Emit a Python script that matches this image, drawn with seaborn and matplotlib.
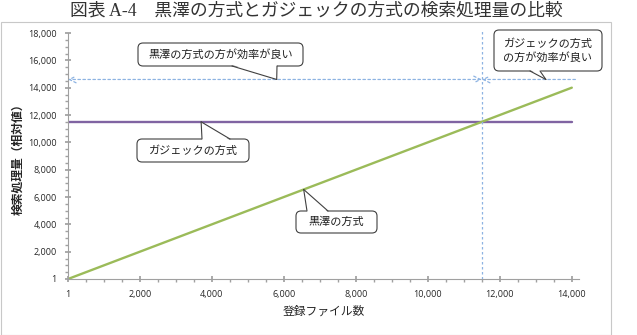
import matplotlib
matplotlib.use("Agg")
import matplotlib.pyplot as plt
import matplotlib.patches as mpatches
from matplotlib.lines import Line2D
from matplotlib.transforms import Affine2D
from matplotlib.ticker import MultipleLocator
import seaborn as sns
import pandas as pd

# ---- data ----
files = [1, 14000]
kurosawa = [1, 14000]
gadjek = [11500, 11500]
crossover_x = 11500
arrow_y = 14600
x_ticks = [1, 2000, 4000, 6000, 8000, 10000, 12000, 14000]
y_ticks = [1, 2000, 4000, 6000, 8000, 10000, 12000, 14000, 16000, 18000]

title = "図表 A-4　黒澤の方式とガジェックの方式の検索処理量の比較"
xlabel = "登録ファイル数"
ylabel = "検索処理量（相対値）"
callout_texts = ["黒澤の方式の方が効率が良い", "ガジェックの方式\nの方が効率が良い",
                 "ガジェックの方式", "黒澤の方式"]
callout_targets = [(5800, 14600), (13280, 14600), (3700, 11500), (6550, 6550)]

sns.set_theme(style="white")
plt.rcParams['font.family'] = ['Noto Sans CJK JP', 'DejaVu Sans']

df = pd.DataFrame({"files": files, "kurosawa": kurosawa, "gadjek": gadjek})

W, H = 637, 335
fig = plt.figure(figsize=(W / 100, H / 100), dpi=100)
ax = fig.add_axes([68 / W, 1 - 279 / H, 511 / W, (279 - 33) / H])

green = "#9BBB59"
purple = "#8064A2"
dash_col = "#8DB3E2"

sns.lineplot(data=df, x="files", y="gadjek", ax=ax, color=purple, linewidth=1.7)
sns.lineplot(data=df, x="files", y="kurosawa", ax=ax, color=green, linewidth=1.7)

ax.set_xlim(1, 14200)
ax.set_ylim(1, 18000)
ax.set_xticks(x_ticks)
ax.set_yticks(y_ticks)
tick_fam = ['Open Sans', 'DejaVu Sans']
ax.set_xticklabels([f"{v:,}" for v in x_ticks], fontsize=6.5, family=tick_fam)
ax.set_yticklabels([f"{v:,}" for v in y_ticks], fontsize=6.5, family=tick_fam)
ax.xaxis.set_minor_locator(MultipleLocator(500))
ax.yaxis.set_minor_locator(MultipleLocator(500))
ax.tick_params(axis='both', which='major', length=4, color='#A0A0A0', direction='inout', pad=6)
ax.tick_params(axis='both', which='minor', length=2, color='#A0A0A0', direction='out')
ax.tick_params(axis='x', which='both', bottom=True)
ax.tick_params(axis='y', which='both', left=True)
for s in ['top', 'right']:
    ax.spines[s].set_visible(False)
for s in ['left', 'bottom']:
    ax.spines[s].set_color('#A0A0A0')
    ax.spines[s].set_linewidth(0.8)

ax.set_xlabel(xlabel, fontsize=8.5, labelpad=4)
ax.set_ylabel(ylabel, fontsize=8.5, fontweight='bold', labelpad=3)

# vertical dashed line
ax.plot([crossover_x, crossover_x], [1, 18300], ls=(0, (2, 2)), color=dash_col, lw=0.9, clip_on=False)

# dashed arrows
ax.annotate("", xy=(1, arrow_y), xytext=(crossover_x, arrow_y),
            arrowprops=dict(arrowstyle="<->", ls=(0, (2, 2)), color=dash_col, lw=0.9,
                            shrinkA=0, shrinkB=0))
ax.annotate("", xy=(crossover_x, arrow_y), xytext=(14100, arrow_y),
            arrowprops=dict(arrowstyle="->", ls=(0, (2, 2)), color=dash_col, lw=0.9,
                            shrinkA=0, shrinkB=0))

# pixel frame (origin top-left of figure)
T = Affine2D().scale(1, -1).translate(0, H)

def to_px(xy):
    x, y = ax.transData.transform(xy)
    return x, H - y

# callout boxes: (left, top, right, bottom), pointer base x-range, edge ('top'/'bottom')
boxes = [((138, 43, 303, 66), (232, 277), 'bottom'),
         ((494, 30, 602, 71), (530, 540), 'bottom'),
         ((137, 139, 249, 162), (202, 230), 'top'),
         ((296, 211, 377, 233), (307, 328), 'top')]

ec = "#404040"
for text, target, (bb, base, edge) in zip(callout_texts, callout_targets, boxes):
    l, t, r, b = bb
    patch = mpatches.FancyBboxPatch((l, t), r - l, b - t,
                                    boxstyle="round,pad=0,rounding_size=5",
                                    transform=T, fc="white", ec=ec, lw=0.8, zorder=5)
    fig.patches.append(patch)
    tx, ty = to_px(target)
    ey = b if edge == 'bottom' else t
    inner = -1.2 if edge == 'bottom' else 1.2
    poly = mpatches.Polygon([(base[0], ey + inner), (base[1], ey + inner), (tx, ty)],
                            closed=True, transform=T, fc="white", ec="none", zorder=6)
    fig.patches.append(poly)
    for bx in base:
        fig.lines.append(Line2D([bx, tx], [ey, ty], transform=T, color=ec, lw=0.8, zorder=7))
    fig.text(((l + r) / 2) / W, 1 - ((t + b) / 2) / H, text, ha='center', va='center',
             fontsize=8, color='#202020', linespacing=1.25, zorder=8)

# title
fig.text(316.5 / W, 1 - 11 / H, title, ha='center', va='center', fontsize=12.8,
         color='#333333', family=['Liberation Serif', 'Noto Sans CJK JP', 'DejaVu Sans'])

# outer chart frame
fig.patches.append(mpatches.Rectangle((1 / W, 0), 610 / W, (H - 22) / H,
                                      transform=fig.transFigure, fill=False,
                                      ec='#C8C8C8', lw=0.8))

fig.savefig("out.png", dpi=100)
